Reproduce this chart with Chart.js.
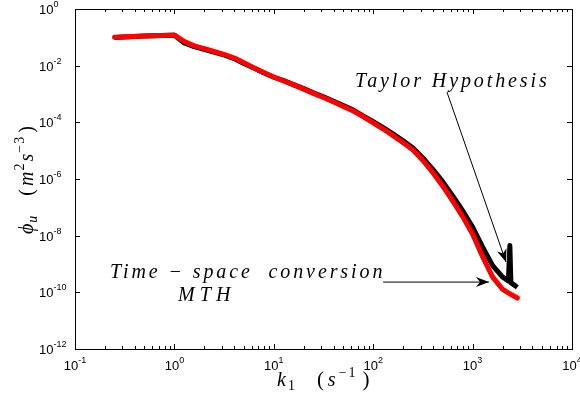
<!DOCTYPE html>
<html lang="en">
<head>
<meta charset="UTF-8">
<title>Spectrum phi_u vs k1</title>
<script src="https://cdn.jsdelivr.net/npm/chart.js"></script>
<style>
    body { margin: 0; padding: 0; background: #fff; }
    #wrap { width: 580px; height: 405px; }
</style>
</head>
<body>
<div id="wrap"><canvas id="spec" width="580" height="405"></canvas></div>
<script>
// MTH (red) series
const kRed = [0.25, 0.5, 1.0, 1.26, 1.58, 2.0, 2.5, 3.2, 4.0, 5.0, 6.3, 7.9, 10, 12.6, 15.8, 20, 25, 32, 40, 50,
    63, 79, 100, 126, 158, 200, 251, 316, 398, 501, 631, 794, 1000, 1259, 1585, 1995, 2239, 2512, 2818];
const phiRed = [0.100, 0.112, 0.120, 0.0708, 0.0501, 0.0398, 0.0316, 0.0245, 0.0186, 0.0126, 0.0083, 0.00575,
    0.00398, 0.00288, 0.00209, 0.00148, 0.00105, 7.4e-4, 5.2e-4, 3.6e-4, 2.5e-4, 1.6e-4, 9.5e-5, 5.8e-5, 3.4e-5,
    1.9e-5, 1.05e-5, 4.5e-6, 1.66e-6, 5.6e-7, 1.66e-7, 4.7e-8, 1.12e-8, 1.8e-9, 3.5e-10, 1.3e-10, 1.0e-10,
    7.9e-11, 6.3e-11];

// Taylor hypothesis (black) series
const kBlack = [0.25, 0.5, 1.0, 1.26, 1.58, 2.0, 2.5, 3.2, 4.0, 5.0, 6.3, 7.9, 10, 12.6, 15.8, 20, 25, 32, 40, 50,
    63, 79, 100, 126, 158, 200, 251, 316, 398, 501, 631, 794, 1000, 1259, 1585, 1995, 2291, 2371, 2427, 2818];
const phiBlack = [0.098, 0.112, 0.118, 0.063, 0.047, 0.038, 0.030, 0.0234, 0.0178, 0.0120, 0.0083, 0.0056,
    0.0039, 0.00295, 0.00214, 0.00155, 0.0011, 7.8e-4, 5.5e-4, 3.9e-4, 2.7e-4, 1.7e-4, 1.05e-4, 6.5e-5, 3.9e-5,
    2.24e-5, 1.23e-5, 5.5e-6, 2.2e-6, 7.9e-7, 2.5e-7, 7.6e-8, 2.0e-8, 4.0e-9, 8.9e-10, 3.5e-10, 2.5e-10,
    4.5e-9, 2.2e-10, 1.5e-10];

// tick labels (powers of ten)
const xTickExps = [-1, 0, 1, 2, 3, 4];
const yTickExps = [0, -2, -4, -6, -8, -10, -12];

const serif = '"Liberation Serif", "DejaVu Serif", serif';
const sans = '"Liberation Sans", Arial, sans-serif';

function pts(ks, vs) {
    return ks.map((k, i) => ({ x: k, y: vs[i] }));
}

// draw a run of text pieces: {t, size, it, dy, gap, sp}
function richText(ctx, parts, x, y, spacing) {
    let cx = x;
    parts.forEach(p => {
        if (p.gap) { cx += p.gap; return; }
        ctx.font = (p.it ? 'italic ' : '') + p.size + 'px ' + serif;
        ctx.letterSpacing = (p.sp !== undefined ? p.sp : (spacing || 0)) + 'px';
        ctx.fillText(p.t, cx, y + (p.dy || 0));
        cx += ctx.measureText(p.t).width;
    });
    ctx.letterSpacing = '0px';
    return cx - x;
}

function arrow(ctx, x1, y1, x2, y2) {
    ctx.beginPath();
    ctx.moveTo(x1, y1);
    ctx.lineTo(x2, y2);
    ctx.lineWidth = 1;
    ctx.strokeStyle = '#000';
    ctx.stroke();
    const a = Math.atan2(y2 - y1, x2 - x1);
    const L = 13, W = 5, N = 9;
    ctx.beginPath();
    ctx.moveTo(x2, y2);
    ctx.lineTo(x2 - L * Math.cos(a) + W * Math.sin(a), y2 - L * Math.sin(a) - W * Math.cos(a));
    ctx.lineTo(x2 - N * Math.cos(a), y2 - N * Math.sin(a));
    ctx.lineTo(x2 - L * Math.cos(a) - W * Math.sin(a), y2 - L * Math.sin(a) + W * Math.cos(a));
    ctx.closePath();
    ctx.fillStyle = '#000';
    ctx.fill();
}

const framePlugin = {
    id: 'frame',
    afterDraw(chart) {
        const ctx = chart.ctx;
        const xs = chart.scales.x, ys = chart.scales.y;
        const a = chart.chartArea;
        ctx.save();
        ctx.strokeStyle = '#000';
        ctx.lineWidth = 1;
        ctx.strokeRect(Math.round(a.left) + 0.5, Math.round(a.top) + 0.5,
            Math.round(a.right - a.left), Math.round(a.bottom - a.top));

        // x ticks, major and minor, inward on bottom and top
        ctx.beginPath();
        for (let e = -1; e <= 4; e++) {
            for (let m = 1; m <= 9; m++) {
                const v = m * Math.pow(10, e);
                if (v > 10000) break;
                const px = Math.round(xs.getPixelForValue(v)) + 0.5;
                const len = m === 1 ? 5 : 3;
                ctx.moveTo(px, a.bottom); ctx.lineTo(px, a.bottom - len);
                ctx.moveTo(px, a.top); ctx.lineTo(px, a.top + len);
            }
        }
        yTickExps.forEach(e => {
            const py = Math.round(ys.getPixelForValue(Math.pow(10, e))) + 0.5;
            ctx.moveTo(a.left, py); ctx.lineTo(a.left + 5, py);
            ctx.moveTo(a.right, py); ctx.lineTo(a.right - 5, py);
        });
        ctx.stroke();

        // tick labels
        ctx.fillStyle = '#000';
        ctx.textBaseline = 'alphabetic';
        ctx.textAlign = 'left';
        xTickExps.forEach(e => {
            const px = xs.getPixelForValue(Math.pow(10, e));
            ctx.font = '13px ' + sans;
            const w1 = ctx.measureText('10').width;
            ctx.font = '9px ' + sans;
            const w2 = ctx.measureText(String(e)).width;
            const left = px - (w1 + w2) / 2;
            ctx.font = '13px ' + sans;
            ctx.fillText('10', left, 370);
            ctx.font = '9px ' + sans;
            ctx.fillText(String(e), left + w1, 363);
        });
        yTickExps.forEach(e => {
            const py = ys.getPixelForValue(Math.pow(10, e));
            ctx.font = '13px ' + sans;
            const w1 = ctx.measureText('10').width;
            ctx.fillText('10', 39, py + 5);
            ctx.font = '9px ' + sans;
            ctx.fillText(String(e), 39 + w1, py - 2);
        });

        // axis titles
        richText(ctx, [
            { t: 'k', size: 20, it: true, sp: 2 },
            { t: '1', size: 14, dy: 4, sp: 0 },
            { gap: 22 },
            { t: '(', size: 21, sp: 4 },
            { t: 's', size: 20, it: true, sp: 3 },
            { t: '\u22121', size: 14, dy: -9, sp: 2 },
            { gap: 5 },
            { t: ')', size: 21, sp: 0 }
        ], 277, 386);

        ctx.save();
        ctx.translate(33, 234);
        ctx.rotate(-Math.PI / 2);
        richText(ctx, [
            { t: '\u03d5', size: 20, it: true, sp: 1 },
            { t: 'u', size: 14, it: true, dy: 4, sp: 0 },
            { gap: 20 },
            { t: '(', size: 20, sp: 3 },
            { t: 'm', size: 20, it: true, sp: 1 },
            { t: '2', size: 14, dy: -9, sp: 2 },
            { t: 's', size: 20, it: true, sp: 1 },
            { t: '\u22123', size: 14, dy: -9, sp: 1 },
            { gap: 3 },
            { t: ')', size: 20, sp: 0 }
        ], 0, 0);
        ctx.restore();

        // annotations, anchored in data space
        const X = v => xs.getPixelForValue(v), Y = v => ys.getPixelForValue(v);
        richText(ctx, [{ t: 'Taylor Hypothesis', size: 20, it: true }], X(65.6), Y(1.77e-3), 2.9);
        arrow(ctx, X(552), Y(1.18e-3), X(2168), Y(1.17e-9));
        richText(ctx, [{ t: 'Time \u2212 space  conversion', size: 20, it: true }], X(0.225), Y(3.2e-10), 2.9);
        richText(ctx, [{ t: 'MTH', size: 20, it: true }], X(1.09), Y(5.0e-11), 5);
        arrow(ctx, X(126), Y(2.3e-10), X(1462), Y(2.3e-10));
        ctx.restore();
    }
};

new Chart(document.getElementById('spec'), {
    type: 'line',
    data: {
        datasets: [
            {
                label: 'MTH',
                data: pts(kRed, phiRed),
                borderColor: '#ff0000',
                borderWidth: 5,
                pointRadius: 0,
                tension: 0,
                fill: false,
                borderJoinStyle: 'round',
                borderCapStyle: 'round'
            },
            {
                label: 'Taylor Hypothesis',
                data: pts(kBlack, phiBlack),
                borderColor: '#000000',
                borderWidth: 5,
                pointRadius: 0,
                tension: 0,
                fill: false,
                borderJoinStyle: 'round'
            }
        ]
    },
    options: {
        responsive: false,
        animation: false,
        devicePixelRatio: 1,
        layout: { padding: { left: 75, right: 8, top: 9, bottom: 56 } },
        plugins: { legend: { display: false }, tooltip: { enabled: false } },
        scales: {
            x: {
                type: 'logarithmic', min: 0.1, max: 10000,
                ticks: { display: false }, grid: { display: false }, border: { display: false },
                afterFit: s => { s.height = 0; }
            },
            y: {
                type: 'logarithmic', min: 1e-12, max: 1,
                ticks: { display: false }, grid: { display: false }, border: { display: false },
                afterFit: s => { s.width = 0; }
            }
        }
    },
    plugins: [framePlugin]
});
</script>
</body>
</html>
